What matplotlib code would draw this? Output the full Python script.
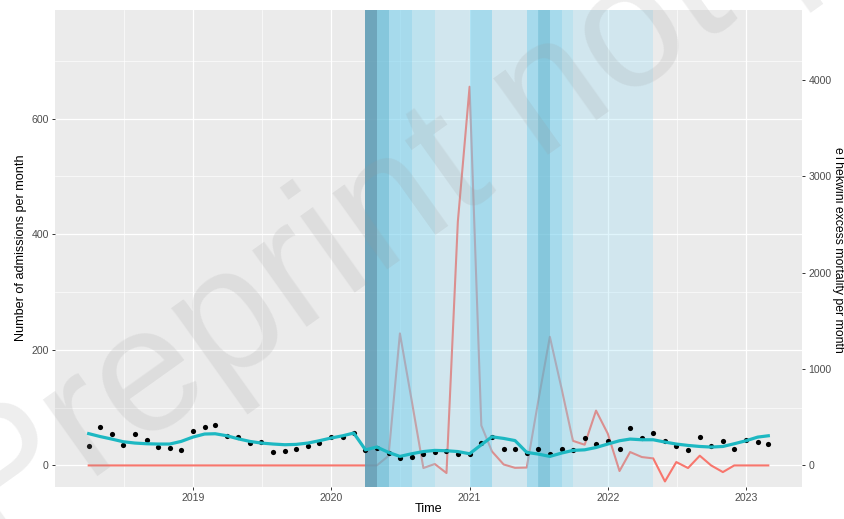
import numpy as np
import pandas as pd
import matplotlib
matplotlib.use("Agg")
import matplotlib.pyplot as plt
import matplotlib.dates as mdates

plt.rcParams["font.family"] = ["Liberation Sans", "DejaVu Sans"]

# Monthly series, April 2018 - March 2023
months = pd.date_range("2018-04-01", periods=60, freq="MS")

admissions = [34, 66, 55, 35, 54, 44, 32, 31, 27, 60, 67, 70, 51, 49, 39, 40,
              24, 25, 29, 33, 38, 50, 49, 56, 26, 31, 21, 13, 15, 20, 23, 25,
              20, 20, 39, 49, 29, 28, 21, 28, 20, 28, 27, 47, 37, 43, 29, 65,
              48, 56, 43, 33, 26, 50, 33, 43, 29, 44, 40, 37]

fitted = [55, 50, 45.6, 41, 38.7, 37.5, 37, 37, 41.5, 49, 54.3, 54.8, 51.3,
          46, 41.5, 38.7, 37, 35.8, 36.4, 38.7, 42.7, 47.4, 51.3, 56, 27, 31.8,
          22.5, 15.6, 20.2, 24, 26, 25.4, 24, 20.2, 35.8, 49.5, 46.7, 43, 22.5,
          19.7, 15.6, 21.4, 26, 27, 31, 37, 42.7, 45.6, 44.4, 44.4, 40.4, 37,
          34.6, 32.8, 31.8, 32.8, 37.5, 42.7, 49, 51.3]

excess_mortality = [0] * 26 + [100, 1370, 675, -27, 15, -79, 2530, 3930, 415,
                               146, 10, -25, -22, 660, 1335, 797, 255, 215, 569,
                               330, -58, 139, 87, 73, -166, 35, -27, 101, 0,
                               -69, 0, 0, 0, 0]

# Lockdown alert level periods (start, end, level)
level_starts = ["2020-04-01", "2020-05-01", "2020-06-01", "2020-08-01",
                "2020-10-01", "2021-01-01", "2021-03-01", "2021-06-01",
                "2021-07-01", "2021-08-01", "2021-09-01", "2021-10-01"]
level_ends = ["2020-05-01", "2020-06-01", "2020-08-01", "2020-10-01",
              "2021-01-01", "2021-03-01", "2021-06-01", "2021-07-01",
              "2021-08-01", "2021-09-01", "2021-10-01", "2022-05-01"]
levels = [5, 4, 3, 2, 1, 3, 1, 3, 4, 3, 2, 1]

level_fill = {5: ("#619eb6", 0.9), 4: ("#64bcd7", 0.75), 3: ("#78d0ee", 0.6),
              2: ("#85d9f2", 0.45), 1: ("#87dbf7", 0.25)}

SCALE = 6  # excess mortality per admission-axis unit

fig = plt.figure(figsize=(8.44, 5.19), dpi=100)
ax = fig.add_axes([55 / 844, 1 - 487 / 519, (802 - 55) / 844, (487 - 10) / 519])
ax.set_facecolor("#EBEBEB")
for s in ax.spines.values():
    s.set_visible(False)

x0 = pd.Timestamp("2018-01-02")
x1 = pd.Timestamp("2023-05-29")
ax.set_xlim(x0, x1)
ax.set_ylim(-37.3, 787.7)

# grid
for y in [0, 200, 400, 600]:
    ax.axhline(y, color="white", lw=0.9, zorder=0.5)
for y in [100, 300, 500, 700]:
    ax.axhline(y, color="white", lw=0.45, zorder=0.5)
years = pd.to_datetime(["2019-01-01", "2020-01-01", "2021-01-01",
                        "2022-01-01", "2023-01-01"])
for d in years:
    ax.axvline(d, color="white", lw=0.9, zorder=0.5)
for d in pd.to_datetime(["2018-07-02", "2019-07-02", "2020-07-02",
                         "2021-07-02", "2022-07-02"]):
    ax.axvline(d, color="white", lw=0.45, zorder=0.5)

# excess mortality (secondary scale)
ax.plot(months, np.array(excess_mortality) / SCALE, color="#F8766D",
        lw=1.5, zorder=1)

# lockdown bands
for s, e, lv in zip(level_starts, level_ends, levels):
    col, a = level_fill[lv]
    ax.axvspan(pd.Timestamp(s), pd.Timestamp(e), color=col, alpha=a,
               lw=0, zorder=2)

ax.scatter(months, admissions, s=14, color="black", zorder=3, linewidths=0)
ax.plot(months, fitted, color="#1DB8C2", lw=2.3, zorder=4)

ax.xaxis.set_major_locator(mdates.YearLocator())
ax.xaxis.set_major_formatter(mdates.DateFormatter("%Y"))
ax.set_yticks([0, 200, 400, 600])
ax.tick_params(axis="both", length=2.5, width=0.7, color="#333333",
               labelcolor="#4D4D4D", labelsize=7.6, pad=2)

sec = ax.secondary_yaxis("right", functions=(lambda v: v * SCALE,
                                              lambda v: v / SCALE))
sec.set_yticks([0, 1000, 2000, 3000, 4000])
sec.tick_params(length=2.5, width=0.7, color="#333333",
                labelcolor="#4D4D4D", labelsize=7.6, pad=2)
for s in sec.spines.values():
    s.set_visible(False)

fig.text(21 / 844, 1 - 248 / 519, "Number of admissions per month",
         rotation=90, ha="center", va="center", fontsize=9.1, color="black")
fig.text(838.5 / 844, 1 - 250 / 519, "eThekwini excess mortality per month",
         rotation=-90, ha="center", va="center", fontsize=8.8, color="black")
fig.text(429 / 844, 1 - 509 / 519, "Time", ha="center", va="center",
         fontsize=9.1, color="black")

# watermark
fig.text(-8 / 844, 1 - 552 / 519, "Preprint not peer reviewed", rotation=35.5,
         rotation_mode="anchor", ha="left", va="baseline", fontsize=128,
         color="#9a9a9a", alpha=0.17, zorder=20)

fig.savefig("out.png", dpi=100)
